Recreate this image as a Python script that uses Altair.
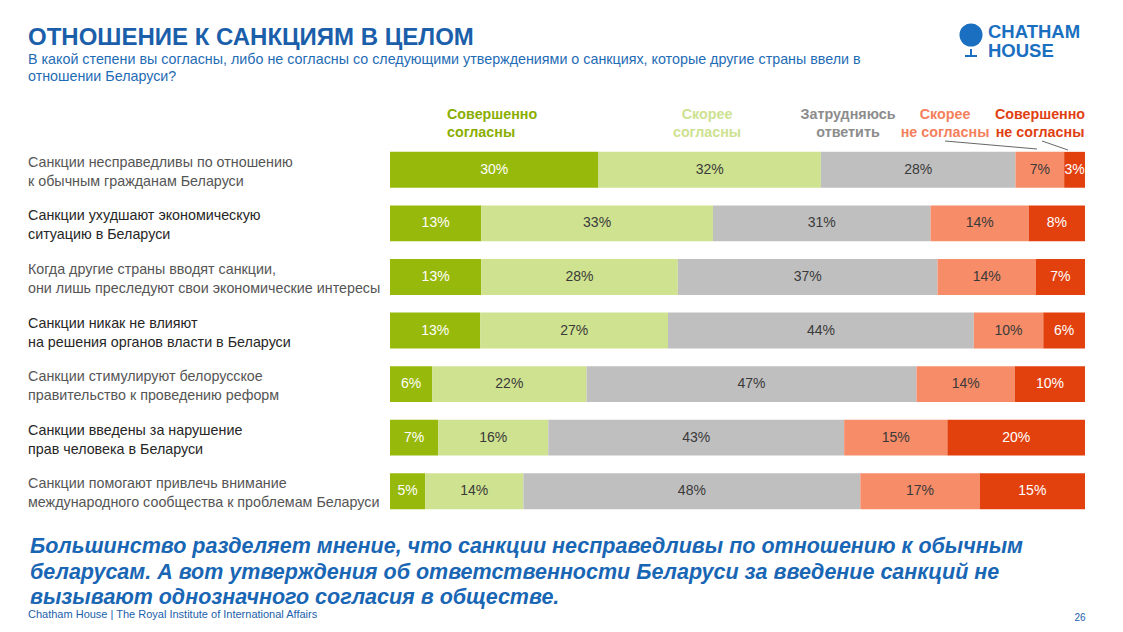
import altair as alt
import pandas as pd

# ---------------- data ----------------
statements = [
    "Санкции несправедливы по отношению\nк обычным гражданам Беларуси",
    "Санкции ухудшают экономическую\nситуацию в Беларуси",
    "Когда другие страны вводят санкции,\nони лишь преследуют свои экономические интересы",
    "Санкции никак не влияют\nна решения органов власти в Беларуси",
    "Санкции стимулируют белорусское\nправительство к проведению реформ",
    "Санкции введены за нарушение\nправ человека в Беларуси",
    "Санкции помогают привлечь внимание\nмеждународного сообщества к проблемам Беларуси",
]
categories = ["Совершенно согласны", "Скорее согласны", "Затрудняюсь ответить",
              "Скорее не согласны", "Совершенно не согласны"]
strongly_agree = [30, 13, 13, 13, 6, 7, 5]
agree = [32, 33, 28, 27, 22, 16, 14]
unsure = [28, 31, 37, 44, 47, 43, 48]
disagree = [7, 14, 14, 10, 14, 15, 17]
strongly_disagree = [3, 8, 7, 6, 10, 20, 15]

header_texts = ["Совершенно\nсогласны", "Скорее\nсогласны", "Затрудняюсь\nответить",
                "Скорее\nне согласны", "Совершенно\nне согласны"]

title = "ОТНОШЕНИЕ К САНКЦИЯМ В ЦЕЛОМ"
subtitle = ("В какой степени вы согласны, либо не согласны со следующими утверждениями о санкциях, "
            "которые другие страны ввели в\nотношении Беларуси?")
conclusion = ("Большинство разделяет мнение, что санкции несправедливы по отношению к обычным\n"
              "беларусам. А вот утверждения об ответственности Беларуси за введение санкций не\n"
              "вызывают однозначного согласия в обществе.")
footer = "Chatham House  |  The Royal Institute of International Affairs"
page_no = "26"

# ---------------- styles ----------------
FONT = "Liberation Sans, Arial, sans-serif"
bar_colors = ["#97b90b", "#cfe290", "#bfbfbf", "#f68c68", "#e2410e"]
head_colors = ["#8aae00", "#cde290", "#8c8c8c", "#f47f5c", "#e03f12"]
BLUE = "#1b5faa"

W, H = 695, 375
X0, Y0 = 390, 143  # page position of plot origin


def px(x):
    return x - X0


def py(y):
    return y - Y0


series = [strongly_agree, agree, unsure, disagree, strongly_disagree]
rows = []
for ci, (cat, vals) in enumerate(zip(categories, series)):
    for si, st in enumerate(statements):
        rows.append({"statement": st, "category": cat, "value": vals[si], "order": ci})
df = pd.DataFrame(rows)

yenc = alt.Y("statement:N", sort=statements, axis=None,
             scale=alt.Scale(paddingInner=0.33, paddingOuter=0.165))

base = alt.Chart(df).transform_stack(
    stack="value", groupby=["statement"], as_=["x0", "x1"], offset="normalize",
    sort=[alt.SortField("order", "ascending")]
).transform_calculate(
    mid="(datum.x0 + datum.x1) / 2", label="datum.value + '%'"
)

xscale = alt.Scale(domain=[0, 1], nice=False, zero=True)

bars = base.mark_bar(strokeWidth=0).encode(
    x=alt.X("x0:Q", axis=None, scale=xscale),
    x2="x1:Q",
    y=yenc,
    color=alt.Color("category:N", scale=alt.Scale(domain=categories, range=bar_colors), legend=None),
)

bar_text = base.mark_text(font=FONT, fontSize=14, baseline="middle", align="center").encode(
    x=alt.X("mid:Q", scale=xscale),
    y=yenc,
    text="label:N",
    color=alt.condition(
        alt.FieldOneOfPredicate(field="category", oneOf=[categories[0], categories[4]]),
        alt.value("white"), alt.value("#3a3a3a")),
)

rows_df = pd.DataFrame({"statement": statements})
row_labels = alt.Chart(rows_df).mark_text(
    font=FONT, fontSize=14.3, align="left", baseline="middle", lineBreak="\n", lineHeight=19, dy=-7
).encode(
    x=alt.value(px(28)),
    y=yenc,
    text="statement:N",
    color=alt.condition(
        alt.FieldOneOfPredicate(field="statement", oneOf=[statements[1], statements[3], statements[5]]),
        alt.value("#262626"), alt.value("#555555")),
)


def label(text, x, y, size=13, color="#333", weight="normal", align="left",
          baseline="alphabetic", style="normal", line_height=None, font=FONT):
    kw = dict(font=font, fontSize=size, fontWeight=weight, align=align, baseline=baseline,
              fontStyle=style, color=color, lineBreak="\n")
    if line_height:
        kw["lineHeight"] = line_height
    return alt.Chart(pd.DataFrame({"t": [text]})).mark_text(**kw).encode(
        x=alt.value(px(x)), y=alt.value(py(y)), text="t:N")


layers = [bars, bar_text, row_labels]

# title block
layers.append(label(title, 28, 45, size=24, color=BLUE, weight="bold"))
layers.append(label(subtitle, 28, 64, size=14.3, color="#1f6cb5", line_height=17))

# column headers (first line centre y≈113, second y≈131)
head_x = [447, 707, 848, 945, 1040]
head_align = ["left", "center", "center", "center", "center"]
for t, x, a, c in zip(header_texts, head_x, head_align, head_colors):
    layers.append(label(t, x, 115, size=14.3, color=c, weight="bold", align=a,
                        baseline="middle", line_height=18))

# leader lines
leaders = [(945, 141, 1037, 149), (1042, 141, 1068, 150)]
for x1, y1, x2, y2 in leaders:
    layers.append(alt.Chart(pd.DataFrame({"a": [0]})).mark_rule(color="#404040", strokeWidth=0.8).encode(
        x=alt.value(px(x1)), y=alt.value(py(y1)), x2=alt.value(px(x2)), y2=alt.value(py(y2))))

# conclusion
layers.append(label(conclusion, 30, 553, size=21.5, color="#1966b4", weight="bold", style="italic",
                    line_height=25.5))
layers.append(label(footer, 28, 618, size=11, color=BLUE))
layers.append(label(page_no, 1080, 621, size=10, color=BLUE, align="center"))

# logo
LOGO = "#1a6fc0"
layers.append(alt.Chart(pd.DataFrame({"a": [0]})).mark_point(
    shape="circle", filled=True, size=530, color=LOGO, opacity=1).encode(
    x=alt.value(px(971)), y=alt.value(py(35))))
layers.append(alt.Chart(pd.DataFrame({"a": [0]})).mark_rule(color=LOGO, strokeWidth=2).encode(
    x=alt.value(px(965)), x2=alt.value(px(977)), y=alt.value(py(56))))
layers.append(alt.Chart(pd.DataFrame({"a": [0]})).mark_rule(color=LOGO, strokeWidth=2).encode(
    x=alt.value(px(971)), y=alt.value(py(49)), y2=alt.value(py(56))))
layers.append(label("CHATHAM", 988, 38, size=18.5, color=LOGO, weight="bold"))
layers.append(label("HOUSE", 988, 57, size=18.5, color=LOGO, weight="bold"))

chart = alt.layer(*layers).properties(
    width=W, height=H,
    background="white",
    autosize=alt.AutoSizeParams(type="none"),
    padding={"left": X0 - 8, "top": Y0 - 8, "right": 1123 - 16 - (X0 - 8) - W, "bottom": 104},
).configure_view(stroke=None)

chart.save("out.html", embed_options={"renderer": "svg", "actions": False})
